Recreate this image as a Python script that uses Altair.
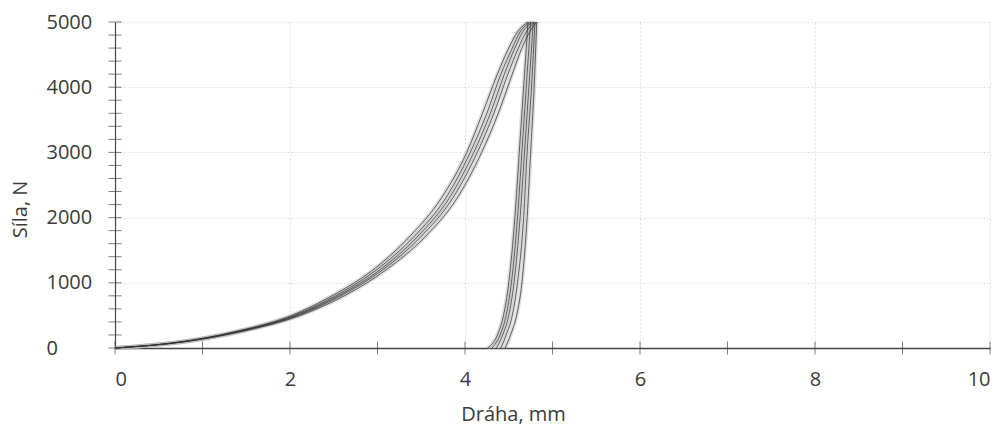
import altair as alt
import pandas as pd

# Force levels (N) used for the loading branches
load_force = [0, 100, 250, 500, 800, 1200, 1700, 2300, 3000, 3600, 4200, 4600, 4850, 5000]
# Displacement (mm) of each loading branch, one list per cycle
load_disp_A = [0, 0.78, 1.37, 2.02, 2.48, 2.95, 3.36, 3.73, 4.02, 4.20, 4.37, 4.50, 4.60, 4.72]
load_disp_B = [0, 0.79, 1.39, 2.05, 2.52, 2.99, 3.41, 3.78, 4.06, 4.25, 4.41, 4.54, 4.63, 4.75]
load_disp_C = [0, 0.80, 1.40, 2.07, 2.55, 3.03, 3.45, 3.82, 4.10, 4.29, 4.45, 4.57, 4.66, 4.78]
load_disp_D = [0, 0.81, 1.42, 2.09, 2.58, 3.06, 3.49, 3.86, 4.14, 4.33, 4.49, 4.61, 4.70, 4.80]
load_disp_E = [0, 0.82, 1.44, 2.12, 2.62, 3.10, 3.54, 3.91, 4.19, 4.38, 4.54, 4.65, 4.74, 4.82]

# Force levels (N) used for the unloading branches
unload_force = [5000, 4000, 3000, 2000, 1000, 500, 200, 0]
unload_disp_A = [4.72, 4.67, 4.62, 4.57, 4.50, 4.44, 4.37, 4.26]
unload_disp_B = [4.75, 4.70, 4.65, 4.60, 4.53, 4.47, 4.40, 4.31]
unload_disp_C = [4.78, 4.73, 4.68, 4.63, 4.56, 4.50, 4.43, 4.36]
unload_disp_D = [4.80, 4.76, 4.71, 4.67, 4.60, 4.54, 4.47, 4.41]
unload_disp_E = [4.82, 4.79, 4.75, 4.71, 4.65, 4.59, 4.52, 4.46]

cycles = ["A", "B", "C", "D", "E"]
load_disp = [load_disp_A, load_disp_B, load_disp_C, load_disp_D, load_disp_E]
unload_disp = [unload_disp_A, unload_disp_B, unload_disp_C, unload_disp_D, unload_disp_E]

x_tick_values = [0, 1, 2, 3, 4, 5, 6, 7, 8, 9, 10]
y_tick_values = list(range(0, 5001, 200))
x_label_values = [0, 2, 4, 6, 8, 10]
y_label_values = [0, 1000, 2000, 3000, 4000, 5000]

rows = []
for c, ld, ud in zip(cycles, load_disp, unload_disp):
    for xv, yv in zip(ld, load_force):
        rows.append({"series": c + "-load", "x": xv, "y": yv})
    for xv, yv in zip(ud, unload_force):
        rows.append({"series": c + "-unload", "x": xv, "y": yv})
df = pd.DataFrame(rows)

FONT = "Open Sans"
W, H = 875, 326

xs = alt.Scale(domain=[0, 10], nice=False)
ys = alt.Scale(domain=[0, 5000], nice=False)

base = alt.Chart(df)

halo = base.mark_line(color="#b5b5b5", strokeWidth=4, opacity=0.45,
                      interpolate="monotone").encode(
    x=alt.X("x:Q", scale=xs,
            axis=alt.Axis(values=x_label_values, title="Dráha, mm", format="d",
                          grid=True, gridColor="#dedede", gridDash=[2, 2],
                          ticks=False, labelPadding=21, labelFontSize=20,
                          labelColor="#3a3a3a", labelFont=FONT,
                          titleFont=FONT, titleFontSize=20, titleFontWeight="normal",
                          titleColor="#3a3a3a", titleX=398, titleY=66,
                          titleBaseline="middle", titleAlign="center",
                          domainColor="#444", domainWidth=1.3)),
    y=alt.Y("y:Q", scale=ys,
            axis=alt.Axis(values=y_label_values, title="Síla, N", format="d",
                          grid=True, gridColor="#dedede", gridDash=[2, 2],
                          ticks=False, labelPadding=69, labelAlign="left",
                          labelFontSize=20,
                          labelColor="#3a3a3a", labelFont=FONT,
                          titleFont=FONT, titleFontSize=20, titleFontWeight="normal",
                          titleColor="#3a3a3a", titleX=-95, titleY=187,
                          titleBaseline="middle", titleAlign="center", titleAngle=270,
                          domainColor="#444", domainWidth=1.2)),
    detail="series:N",
)

lines = base.mark_line(color="#333333", strokeWidth=1, opacity=0.75,
                       interpolate="monotone").encode(
    x=alt.X("x:Q", scale=xs),
    y=alt.Y("y:Q", scale=ys),
    detail="series:N",
)

yt = alt.Chart(pd.DataFrame({"v": y_tick_values})).mark_tick(
    orient="horizontal", size=13, thickness=1, color="#444"
).encode(y=alt.Y("v:Q", scale=ys), x=alt.value(0))

xt = alt.Chart(pd.DataFrame({"v": x_tick_values})).mark_tick(
    orient="vertical", size=13, thickness=1, color="#444"
).encode(x=alt.X("v:Q", scale=xs), y=alt.value(H))

chart = alt.layer(halo, lines, yt, xt).properties(
    width=W, height=H,
    padding={"left": 115, "top": 22, "right": 18, "bottom": 77},
    autosize=alt.AutoSizeParams(type="none"),
    background="white",
).configure_view(stroke=None)

chart.save("out.html", embed_options={"renderer": "svg", "actions": False})
